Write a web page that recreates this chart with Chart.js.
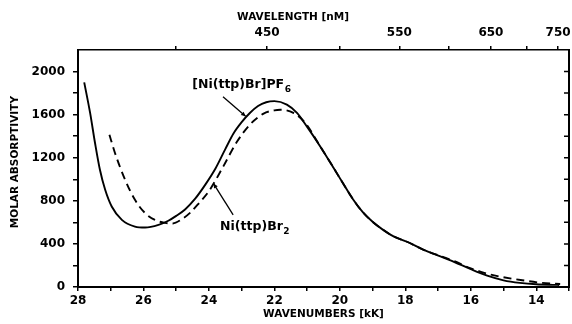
<!DOCTYPE html>
<html><head><meta charset="utf-8">
<script src="https://cdn.jsdelivr.net/npm/chart.js@4/dist/chart.umd.min.js"></script>
<style>html,body{margin:0;padding:0;background:#fff}canvas{display:block}</style>
</head><body>
<canvas id="c" width="572" height="324"></canvas>
<script>
// ---- data (wavenumbers in kK, molar absorptivity) ----
const wavenumbersPF6 = [27.81, 27.63, 27.48, 27.33, 27.17, 26.97, 26.66, 26.26, 25.95, 25.54, 25.24, 25.0, 24.73, 24.42, 24.1, 23.8, 23.5, 23.25, 23.0, 22.75, 22.5, 22.25, 22.0, 21.62, 21.31, 21.01, 20.6, 20.2, 19.9, 19.6, 19.3, 19.0, 18.7, 18.36, 17.95, 17.44, 16.93, 16.5, 16.0, 15.5, 15.0, 14.5, 14.0, 13.5, 13.3];
const absorptivityPF6 = [1900, 1616, 1337, 1088, 902, 747, 623, 561, 552, 577, 615, 660, 720, 820, 955, 1100, 1280, 1425, 1530, 1615, 1680, 1715, 1725, 1693, 1616, 1491, 1305, 1110, 960, 815, 695, 605, 535, 470, 420, 345, 285, 232, 165, 105, 62, 38, 25, 20, 19];
const wavenumbersBr2 = [27.04, 26.87, 26.56, 26.26, 25.95, 25.65, 25.34, 25.1, 24.85, 24.57, 24.3, 24.0, 23.56, 23.15, 22.74, 22.33, 22.0, 21.82, 21.42, 21.06, 20.6, 20.2, 19.9, 19.6, 19.3, 19.0, 18.7, 18.36, 17.95, 17.44, 16.93, 16.5, 16.0, 15.71, 15.4, 15.1, 14.48, 13.87, 13.27];
const absorptivityBr2 = [1414, 1244, 995, 809, 686, 623, 595, 590, 625, 690, 780, 890, 1120, 1345, 1510, 1610, 1640, 1645, 1616, 1523, 1305, 1110, 960, 815, 695, 605, 535, 470, 420, 345, 287, 240, 172, 143, 115, 96, 65, 40, 28];

const wavenumberTicks = [28, 27, 26, 25, 24, 23, 22, 21, 20, 19, 18, 17, 16, 15, 14, 13];
const wavenumberLabels = [28, 26, 24, 22, 20, 18, 16, 14];
const wavelengthTicks = [400, 450, 500, 550, 600, 650, 700, 750];
const wavelengthLabels = [450, 550, 650, 750];
const absorptivityTicks = [0, 200, 400, 600, 800, 1000, 1200, 1400, 1600, 1800, 2000];
const absorptivityLabels = [0, 400, 800, 1200, 1600, 2000];
const seriesNames = ['[Ni(ttp)Br]PF', 'Ni(ttp)Br'];
const seriesSubscripts = ['6', '2'];

const FAM = '"DejaVu Sans", "Liberation Sans", sans-serif';
const tickFont = {family: FAM, size: 12, weight: 'bold'};
const titleFont = {family: FAM, size: 10.5, weight: 'bold'};

function pts(xs, ys) { return xs.map((x, i) => ({x: x, y: ys[i]})); }

const annot = {
  id: 'annot',
  afterDraw(chart) {
    const {ctx, chartArea: a, scales} = chart;
    const X = v => scales.x.getPixelForValue(v), Y = v => scales.y.getPixelForValue(v);
    ctx.save();
    // right frame with inward ticks
    ctx.strokeStyle = '#000';
    ctx.lineWidth = 2;
    ctx.beginPath(); ctx.moveTo(a.right, a.top - 1); ctx.lineTo(a.right, a.bottom + 1); ctx.stroke();
    ctx.lineWidth = 1.5;
    ctx.beginPath();
    absorptivityTicks.forEach(v => { const py = Y(v); ctx.moveTo(a.right, py); ctx.lineTo(a.right - 5, py); });
    ctx.stroke();

    ctx.fillStyle = '#000';
    // axis titles (top and left)
    ctx.font = 'bold 10.5px ' + FAM;
    ctx.textAlign = 'center';
    ctx.textBaseline = 'middle';
    ctx.fillText('WAVELENGTH [nM]', a.left + 0.438 * (a.right - a.left), 17);
    ctx.save();
    ctx.translate(15, a.top + 0.473 * (a.bottom - a.top));
    ctx.rotate(-Math.PI / 2);
    ctx.fillText('MOLAR ABSORPTIVITY', 0, 0);
    ctx.restore();

    // series labels
    ctx.textAlign = 'left';
    const labels = [
      {x: 24.51, y: 1879, from: [23.57, 1767], to: [22.88, 1585]},
      {x: 23.66, y: 558, from: [23.26, 670], to: [23.86, 960]}
    ];
    labels.forEach((l, i) => {
      ctx.font = 'bold 12.5px ' + FAM;
      const px = X(l.x), py = Y(l.y);
      ctx.fillText(seriesNames[i], px, py);
      const w = ctx.measureText(seriesNames[i]).width;
      ctx.font = 'bold 9px ' + FAM;
      ctx.fillText(seriesSubscripts[i], px + w + 0.5, py + 5);
      // arrow
      const x1 = X(l.from[0]), y1 = Y(l.from[1]), x2 = X(l.to[0]), y2 = Y(l.to[1]);
      ctx.lineWidth = 1.3;
      ctx.beginPath(); ctx.moveTo(x1, y1); ctx.lineTo(x2, y2); ctx.stroke();
      const ang = Math.atan2(y2 - y1, x2 - x1), s = 5;
      ctx.beginPath();
      ctx.moveTo(x2, y2);
      ctx.lineTo(x2 - s * Math.cos(ang - 0.45), y2 - s * Math.sin(ang - 0.45));
      ctx.lineTo(x2 - s * Math.cos(ang + 0.45), y2 - s * Math.sin(ang + 0.45));
      ctx.closePath(); ctx.fill();
    });
    ctx.restore();
  }
};

new Chart(document.getElementById('c'), {
  type: 'scatter',
  data: {
    datasets: [
      {label: seriesNames[0] + seriesSubscripts[0], data: pts(wavenumbersPF6, absorptivityPF6), showLine: true,
       borderColor: '#000', borderWidth: 1.9, pointRadius: 0, cubicInterpolationMode: 'monotone', fill: false},
      {label: seriesNames[1] + seriesSubscripts[1], data: pts(wavenumbersBr2, absorptivityBr2), showLine: true,
       borderColor: '#000', borderWidth: 1.9, borderDash: [8, 5], pointRadius: 0, cubicInterpolationMode: 'monotone', fill: false}
    ]
  },
  options: {
    responsive: false, animation: false, devicePixelRatio: 1,
    layout: {padding: {left: 0, right: 3, top: 0, bottom: 0}},
    plugins: {legend: {display: false}, tooltip: {enabled: false}},
    elements: {point: {radius: 0}},
    scales: {
      x: {
        type: 'linear', position: 'bottom', reverse: true, min: 13, max: 28,
        afterBuildTicks: s => { s.ticks = wavenumberTicks.map(v => ({value: v})); },
        afterFit: s => { s.height = 37; s.paddingLeft = 0; s.paddingRight = 0; },
        ticks: {autoSkip: false, maxRotation: 0, minRotation: 0, padding: 3, color: '#000', font: tickFont,
                callback: v => wavenumberLabels.includes(v) ? String(v) : ''},
        grid: {drawOnChartArea: false, drawTicks: true, tickLength: 4, color: '#000', lineWidth: 1.5},
        border: {display: true, color: '#000', width: 2},
        title: {display: true, text: 'WAVENUMBERS [kK]', color: '#000', font: titleFont, padding: {top: 0, bottom: 3}}
      },
      x2: {
        type: 'linear', position: 'top', reverse: true, min: 13, max: 28,
        afterBuildTicks: s => { s.ticks = wavelengthTicks.map(l => ({value: 10000 / l})); },
        afterFit: s => { s.height = 50; s.paddingLeft = 0; s.paddingRight = 0; },
        ticks: {autoSkip: false, maxRotation: 0, minRotation: 0, padding: 6, color: '#000', font: tickFont,
                callback: v => { const l = Math.round(10000 / v); return wavelengthLabels.includes(l) ? String(l) : ''; }},
        grid: {drawOnChartArea: false, drawTicks: true, tickLength: 4, color: '#000', lineWidth: 1.5},
        border: {display: true, color: '#000', width: 1.5},
        title: {display: false}
      },
      y: {
        type: 'linear', position: 'left', min: 0, max: 2200,
        afterBuildTicks: s => { s.ticks = absorptivityTicks.map(v => ({value: v})); },
        afterFit: s => { s.width = 78; s.paddingTop = 0; s.paddingBottom = 0; },
        ticks: {autoSkip: false, padding: 8, color: '#000', font: tickFont,
                callback: v => absorptivityLabels.includes(v) ? String(v) : ''},
        grid: {drawOnChartArea: false, drawTicks: true, tickLength: 5, color: '#000', lineWidth: 1.5},
        border: {display: true, color: '#000', width: 2},
        title: {display: false}
      }
    }
  },
  plugins: [annot]
});
</script>
</body></html>
